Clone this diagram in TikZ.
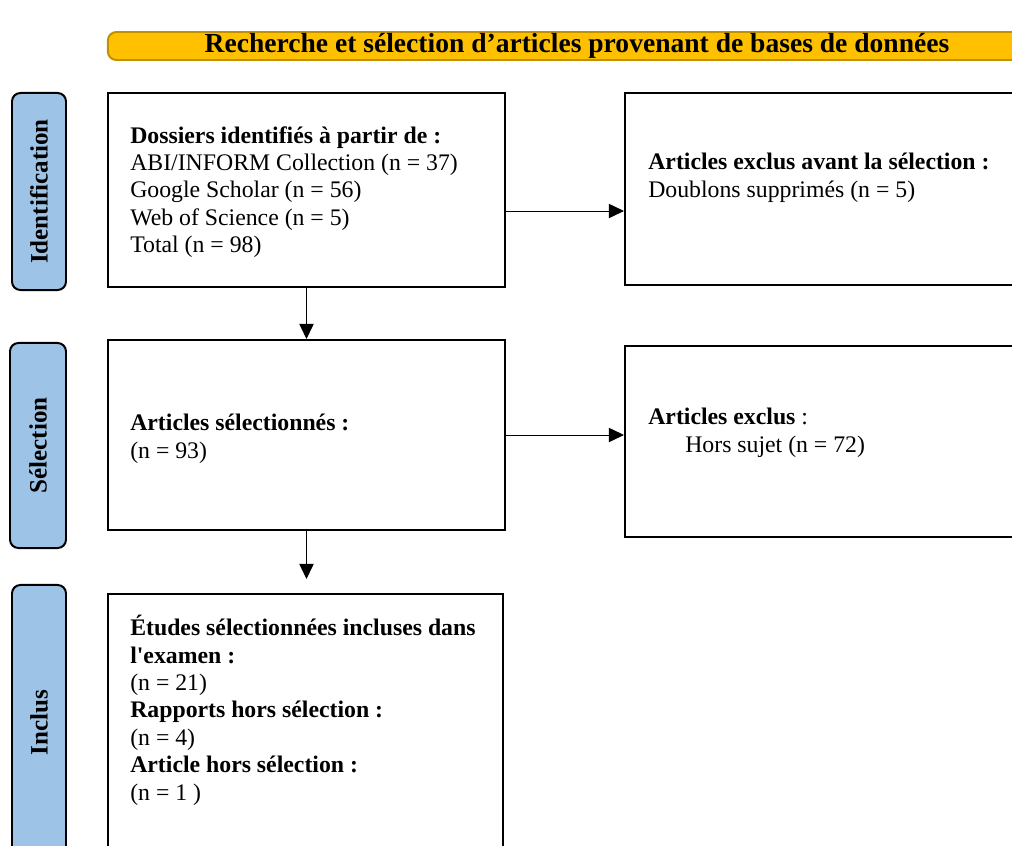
\documentclass[tikz,border=0pt]{standalone}
\usepackage{fontspec}
\setmainfont{Liberation Serif}
\usetikzlibrary{arrows.meta,positioning,calc}
\definecolor{titlefill}{RGB}{255,192,0}
\definecolor{titleedge}{RGB}{191,144,0}
\definecolor{phasefill}{RGB}{157,195,230}
\newcommand\bodyfont{\fontsize{16.9}{19.5}\selectfont}
\newcommand\titlefont{\fontsize{19.6}{21}\selectfont\bfseries}
\tikzset{
  stage/.style={draw, line width=1.4pt, rounded corners=6pt, fill=phasefill,
    minimum width=1.35cm, inner sep=0pt},
  stagetxt/.style={rotate=90, font=\fontsize{17.8}{20}\selectfont\bfseries},
  box/.style={draw, line width=1.4pt, inner sep=0pt},
  boxtxt/.style={anchor=north west, inner sep=0pt, align=left, font=\bodyfont},
  arr/.style={line width=0.7pt, -{Triangle[length=0.38cm,width=0.36cm]}}
}
\begin{document}
\begin{tikzpicture}[x=0.025cm, y=-0.025cm]
\useasboundingbox (0,0) rectangle (1012,846);
% Title bar
\node[draw=titleedge, line width=1.4pt, rounded corners=6pt, fill=titlefill,
  minimum width=23.45cm, minimum height=0.7cm, inner sep=0pt,
  text height=0.42cm, text depth=0.1cm, font=\titlefont] (title) at (577,46)
  {Recherche et sélection d’articles provenant de bases de données};
% Phases on the left
\node[stage, minimum height=4.925cm] (identif) at (39,191.5) {};
\node[stagetxt] at (identif) {Identification};
\node[stage, minimum width=1.4cm, minimum height=5.125cm] (select) at (38,445.5) {};
\node[stagetxt] at (select) {Sélection};
\node[stage, minimum height=6.875cm] (inclus) at (39,722.5) {};
\node[stagetxt] at (inclus) {Inclus};
% Boxes
\node[box, minimum width=9.925cm, minimum height=4.85cm] (b1) at (306.5,190) {};
\node[boxtxt] (t1) at (130,126) {\textbf{Dossiers identifiés à partir de :}\\
  ABI/INFORM Collection (n = 37)\\ Google Scholar (n = 56)\\
  Web of Science (n = 5)\\ Total (n = 98)};
\node[box, minimum width=10.375cm, minimum height=4.8cm] (b2) at (832.5,189) {};
\node[boxtxt] (t2) at (648,153) {\textbf{Articles exclus avant la sélection :}\\
  Doublons supprimés (n = 5)};
\node[box, minimum width=9.925cm, minimum height=4.75cm] (b3) at (306.5,435) {};
\node[boxtxt] (t3) at (130,414) {\textbf{Articles sélectionnés :}\\ (n = 93)};
\node[box, minimum width=10.375cm, minimum height=4.775cm] (b4) at (832.5,441.5) {};
\node[boxtxt] (t4) at (648,408) {\textbf{Articles exclus} :\\
  \hspace*{0.925cm}Hors sujet (n = 72)};
\node[box, minimum width=9.875cm, minimum height=6.9cm] (b5) at (305.5,732) {};
\node[boxtxt] (t5) at (130,615) {\textbf{Études sélectionnées incluses dans}\\
  \textbf{l\textquotesingle examen :}\\ (n = 21)\\ \textbf{Rapports hors sélection :}\\
  (n = 4)\\ \textbf{Article hors sélection :}\\ (n = 1 )};
% Connectors
\draw[arr] ([yshift=-0.525cm]b1.east) -- ([yshift=-0.525cm]b1.east -| b2.west);
\draw[arr] (b1.south) -- (b1.south |- b3.north);
\draw[arr] (b3.east) -- (b3.east -| b4.west);
\draw[arr, shorten >=0.35cm] (b3.south) -- (b3.south |- b5.north);
\end{tikzpicture}
\end{document}
